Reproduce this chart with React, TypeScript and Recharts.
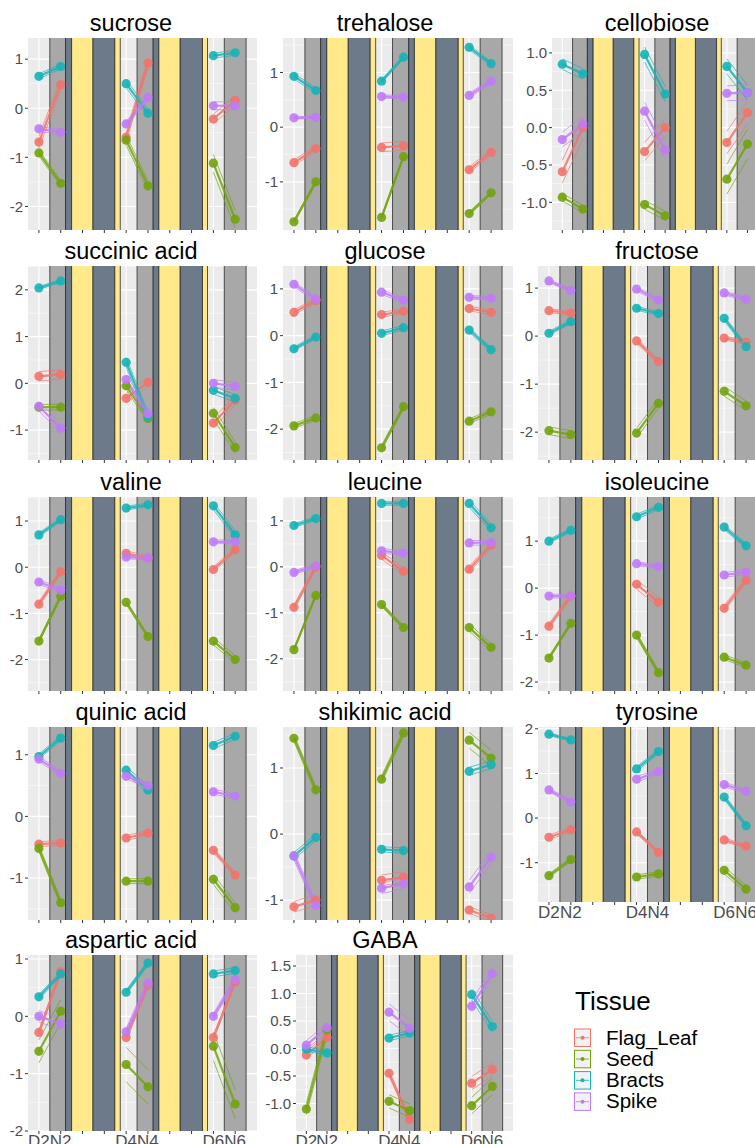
import React from 'react';
import {
  ComposedChart,
  Line,
  XAxis,
  YAxis,
  CartesianGrid,
  ReferenceArea,
} from 'recharts';

const metabolites = [
  'sucrose', 'trehalose', 'cellobiose',
  'succinic acid', 'glucose', 'fructose',
  'valine', 'leucine', 'isoleucine',
  'quinic acid', 'shikimic acid', 'tyrosine',
  'aspartic acid', 'GABA',
];

const tissues = ['Flag_Leaf', 'Seed', 'Bracts', 'Spike'];
const tissueColors = ['#F2736B', '#72A30C', '#16B2B6', '#C07AF8'];

// x slots: D2 N2 (D3 N3) D4 N4 (D5 N5) D6 N6
const timeLabels = ['D2', 'N2', '', '', 'D4', 'N4', '', '', 'D6', 'N6'];
const timeSlots = [1, 2, 5, 6, 9, 10];

// means per metabolite, in order D2 N2 D4 N4 D6 N6
const flagLeaf = [
  [-0.69, 0.48, -0.59, 0.92, -0.22, 0.16],
  [-0.65, -0.39, -0.37, -0.34, -0.78, -0.46],
  [-0.59, 0.0, -0.32, 0.0, -0.2, 0.2],
  [0.15, 0.19, -0.32, 0.02, -0.85, -0.36],
  [0.5, 0.75, 0.45, 0.52, 0.58, 0.5],
  [0.53, 0.48, -0.1, -0.53, -0.04, -0.13],
  [-0.8, -0.1, 0.3, 0.2, -0.05, 0.38],
  [-0.88, 0.0, 0.25, -0.1, -0.05, 0.47],
  [-0.81, -0.17, 0.08, -0.3, -0.43, 0.17],
  [-0.45, -0.43, -0.35, -0.27, -0.55, -0.95],
  [-1.1, -1.0, -0.7, -0.65, -1.15, -1.27],
  [-0.43, -0.26, -0.31, -0.77, -0.49, -0.63],
  [-0.28, 0.78, -0.37, 0.54, -0.37, 0.6],
  [-0.12, 0.2, -0.45, -1.29, -0.63, -0.38],
];
const seed = [
  [-0.91, -1.53, -0.65, -1.58, -1.12, -2.26],
  [-1.73, -1.0, -1.65, -0.54, -1.58, -1.2],
  [-0.93, -1.09, -1.03, -1.18, -0.69, -0.22],
  [-0.51, -0.51, -0.05, -0.75, -0.64, -1.37],
  [-1.93, -1.76, -2.4, -1.52, -1.83, -1.63],
  [-1.97, -2.05, -2.02, -1.4, -1.15, -1.45],
  [-1.6, -0.63, -0.76, -1.5, -1.6, -2.0],
  [-1.8, -0.62, -0.82, -1.32, -1.32, -1.75],
  [-1.49, -0.75, -1.0, -1.8, -1.47, -1.64],
  [-0.52, -1.4, -1.05, -1.05, -1.02, -1.48],
  [1.45, 0.67, 0.83, 1.53, 1.42, 1.15],
  [-1.29, -0.93, -1.32, -1.25, -1.17, -1.59],
  [-0.61, 0.09, -0.84, -1.23, -0.52, -1.53],
  [-1.1, 0.34, -0.96, -1.13, -1.04, -0.69],
];
const bracts = [
  [0.65, 0.85, 0.5, -0.1, 1.07, 1.13],
  [0.93, 0.67, 0.84, 1.28, 1.46, 1.16],
  [0.85, 0.72, 0.98, 0.45, 0.82, 0.47],
  [2.04, 2.19, 0.45, -0.71, -0.15, -0.32],
  [-0.28, -0.03, 0.05, 0.17, 0.12, -0.3],
  [0.06, 0.3, 0.58, 0.47, 0.37, -0.22],
  [0.7, 1.03, 1.28, 1.35, 1.33, 0.7],
  [0.9, 1.05, 1.38, 1.38, 1.38, 0.85],
  [1.0, 1.23, 1.52, 1.72, 1.3, 0.9],
  [0.97, 1.27, 0.75, 0.43, 1.15, 1.3],
  [-0.33, -0.05, -0.23, -0.25, 0.95, 1.05],
  [1.88, 1.75, 1.1, 1.49, 0.47, -0.17],
  [0.34, 0.74, 0.42, 0.93, 0.74, 0.8],
  [-0.01, -0.08, 0.19, 0.28, 0.98, 0.4],
];
const spike = [
  [-0.42, -0.49, -0.32, 0.22, 0.05, 0.05],
  [0.17, 0.18, 0.56, 0.55, 0.58, 0.84],
  [-0.16, 0.05, 0.22, -0.3, 0.46, 0.47],
  [-0.49, -0.96, 0.08, -0.65, 0.0, -0.06],
  [1.1, 0.78, 0.93, 0.76, 0.82, 0.8],
  [1.15, 0.95, 0.98, 0.75, 0.9, 0.77],
  [-0.32, -0.5, 0.22, 0.2, 0.55, 0.55],
  [-0.12, 0.02, 0.35, 0.3, 0.52, 0.53],
  [-0.17, -0.17, 0.52, 0.46, 0.28, 0.34],
  [0.93, 0.7, 0.65, 0.5, 0.4, 0.33],
  [-0.33, -1.08, -0.82, -0.75, -0.8, -0.35],
  [0.63, 0.36, 0.87, 1.04, 0.75, 0.6],
  [0.0, -0.13, -0.27, 0.58, 0.0, 0.64],
  [0.06, 0.38, 0.66, 0.37, 0.77, 1.36],
];

// spread of the thin lines, per day (2, 4, 6)
const flagLeafSE = [
  [0.12, 0.1, 0.1], [0.05, 0.08, 0.05], [0.15, 0.12, 0.15], [0.1, 0.1, 0.1],
  [0.05, 0.05, 0.05], [0.04, 0.05, 0.04], [0.05, 0.05, 0.05], [0.05, 0.08, 0.06],
  [0.05, 0.1, 0.06], [0.04, 0.04, 0.04], [0.08, 0.08, 0.05], [0.05, 0.04, 0.04],
  [0.04, 0.05, 0.04], [0.06, 0.05, 0.12],
];
const seedSE = [
  [0.06, 0.1, 0.18], [0.03, 0.03, 0.03], [0.05, 0.06, 0.2], [0.06, 0.08, 0.12],
  [0.05, 0.05, 0.05], [0.08, 0.1, 0.1], [0.04, 0.04, 0.08], [0.03, 0.04, 0.08],
  [0.03, 0.05, 0.05], [0.05, 0.04, 0.08], [0.05, 0.05, 0.12], [0.04, 0.05, 0.08],
  [0.2, 0.3, 0.25], [0.1, 0.12, 0.15],
];
const bractsSE = [
  [0.05, 0.08, 0.05], [0.05, 0.03, 0.04], [0.07, 0.1, 0.1], [0.03, 0.1, 0.08],
  [0.04, 0.05, 0.05], [0.04, 0.04, 0.05], [0.04, 0.04, 0.08], [0.04, 0.04, 0.08],
  [0.04, 0.05, 0.05], [0.04, 0.06, 0.05], [0.05, 0.04, 0.06], [0.03, 0.05, 0.05],
  [0.04, 0.04, 0.05], [0.04, 0.05, 0.1],
];
const spikeSE = [
  [0.05, 0.05, 0.08], [0.02, 0.03, 0.04], [0.1, 0.12, 0.1], [0.1, 0.1, 0.08],
  [0.05, 0.05, 0.04], [0.03, 0.04, 0.04], [0.05, 0.04, 0.04], [0.04, 0.05, 0.05],
  [0.04, 0.04, 0.05], [0.04, 0.04, 0.04], [0.06, 0.08, 0.1], [0.04, 0.06, 0.05],
  [0.1, 0.06, 0.05], [0.08, 0.15, 0.1],
];

const yDomains = [
  [-2.48, 1.43], [-1.88, 1.63], [-1.37, 1.2],
  [-1.64, 2.51], [-2.66, 1.49], [-2.58, 1.46],
  [-2.68, 1.52], [-2.7, 1.52], [-2.19, 1.94],
  [-1.68, 1.45], [-1.3, 1.62], [-1.88, 2.04],
  [-2.0, 1.07], [-1.5, 1.7],
];
const yTicks = [
  [-2, -1, 0, 1], [-1, 0, 1], [-1, -0.5, 0, 0.5, 1],
  [-1, 0, 1, 2], [-2, -1, 0, 1], [-2, -1, 0, 1],
  [-2, -1, 0, 1], [-2, -1, 0, 1], [-2, -1, 0, 1],
  [-1, 0, 1], [-1, 0, 1], [-1, 0, 1, 2],
  [-2, -1, 0, 1], [-1, -0.5, 0, 0.5, 1, 1.5],
];

// light regime shading, in x slot units
const nightSpans = [[1.5, 2.22], [5.5, 6.24], [9.5, 10.5]];
const darkSpans = [[2.22, 2.5], [3.47, 4.48], [6.24, 6.5], [7.47, 8.5]];
const lightSpans = [[2.5, 3.47], [4.48, 4.73], [6.5, 7.47], [8.5, 8.73]];

const means = [flagLeaf, seed, bracts, spike];
const spreads = [flagLeafSE, seedSE, bractsSE, spikeSE];

// plot boxes: left, top, right, bottom
const boxes = [
  [28, 38, 257, 230], [283, 38, 513, 230], [552, 38, 768, 230],
  [28, 266, 257, 460], [283, 266, 513, 460], [538, 266, 768, 460],
  [28, 497, 257, 691], [283, 497, 513, 691], [538, 497, 768, 691],
  [28, 727, 257, 920], [283, 727, 513, 920], [538, 727, 768, 902],
  [28, 955, 257, 1131], [296, 955, 513, 1131],
];
const titleCenters = [131, 385, 657];
const withXLabels = ['tyrosine', 'aspartic acid', 'GABA'];

const FONT = '"Liberation Sans", Arial, sans-serif';
const AXW = 40;
const MT = 10;
const XH = 26;

const buildRows = (m: number) => {
  const rows: any[] = [];
  timeSlots.forEach((x, k) => {
    if (k === 2 || k === 4) rows.push({ x: (timeSlots[k - 1] + x) / 2 });
    const row: any = { x };
    tissues.forEach((t, ti) => {
      const v = means[ti][m][k];
      const e = spreads[ti][m][Math.floor(k / 2)];
      row[t] = v;
      row[t + '_hi'] = v + e;
      row[t + '_lo'] = v - e;
    });
    rows.push(row);
  });
  return rows;
};

const Panel = ({ m }: { m: number }) => {
  const [left, top, right, bottom] = boxes[m];
  const name = metabolites[m];
  const domain = yDomains[m];
  const ticks = yTicks[m];
  const decimals = ticks.some((t) => !Number.isInteger(t));
  const step = ticks[1] - ticks[0];
  const minor: number[] = [];
  for (let v = ticks[0] - step / 2; v < domain[1]; v += step) {
    if (v > domain[0]) minor.push(v);
  }
  const showX = withXLabels.includes(name);
  const rows = buildRows(m);
  const w = AXW + (right - left);
  const h = MT + (bottom - top) + XH;
  const yLo = domain[0] - 1;
  const yHi = domain[1] + 1;

  const rect = (s: number[], fill: string, key: string) => (
    <ReferenceArea
      key={key}
      x1={s[0]}
      x2={s[1]}
      y1={yLo}
      y2={yHi}
      ifOverflow="hidden"
      fill={fill}
      fillOpacity={1}
      stroke="#2b2b2b"
      strokeWidth={0.8}
    />
  );

  return (
    <>
      <div
        style={{
          position: 'absolute',
          left: titleCenters[m % 3] - 120,
          width: 240,
          top: top - 28,
          textAlign: 'center',
          fontSize: 23.5,
          lineHeight: '27px',
          color: '#000',
        }}
      >
        {name}
      </div>
      <div style={{ position: 'absolute', left: left - AXW, top: top - MT }}>
        <ComposedChart
          width={w}
          height={h}
          data={rows}
          margin={{ top: MT, right: 0, bottom: 0, left: 0 }}
        >
          <CartesianGrid
            fill="#EBEBEB"
            stroke="#FFFFFF"
            strokeWidth={0.5}
            vertical={false}
            horizontalValues={minor}
          />
          <CartesianGrid
            stroke="#FFFFFF"
            strokeWidth={1.1}
            horizontalValues={ticks}
            verticalValues={[1, 2, 3, 4, 5, 6, 7, 8, 9, 10]}
          />
          <XAxis
            type="number"
            dataKey="x"
            domain={[0.5, 11]}
            ticks={[1, 2, 3, 4, 5, 6, 7, 8, 9, 10]}
            interval={0}
            allowDataOverflow
            height={XH}
            axisLine={false}
            tickLine={{ stroke: '#333333' }}
            tickSize={3}
            tickMargin={1}
            tick={{ fill: '#4D4D4D', fontSize: 17, fontFamily: FONT }}
            tickFormatter={(v: number) => (showX ? timeLabels[v - 1] : '')}
          />
          <YAxis
            type="number"
            domain={domain}
            ticks={ticks}
            interval={0}
            allowDataOverflow
            width={AXW}
            axisLine={false}
            tickLine={{ stroke: '#333333' }}
            tickSize={3}
            tickMargin={2}
            tick={{ fill: '#4D4D4D', fontSize: 15, fontFamily: FONT }}
            tickFormatter={(v: number) => (decimals ? v.toFixed(1) : String(v))}
          />
          {nightSpans.map((s, i) => rect(s, '#A8A8A8', 'n' + i))}
          {darkSpans.map((s, i) => rect(s, '#6C7A8A', 'd' + i))}
          {lightSpans.map((s, i) => rect(s, '#FFE98B', 'l' + i))}
          {tissues.map((t, ti) => [
            <Line
              key={t + 'lo'}
              dataKey={t + '_lo'}
              stroke={tissueColors[ti]}
              strokeWidth={0.8}
              strokeOpacity={0.85}
              dot={false}
              activeDot={false}
              connectNulls={false}
              isAnimationActive={false}
            />,
            <Line
              key={t + 'hi'}
              dataKey={t + '_hi'}
              stroke={tissueColors[ti]}
              strokeWidth={0.8}
              strokeOpacity={0.85}
              dot={false}
              activeDot={false}
              connectNulls={false}
              isAnimationActive={false}
            />,
            <Line
              key={t}
              dataKey={t}
              stroke={tissueColors[ti]}
              strokeWidth={2.2}
              strokeOpacity={0.85}
              dot={{ r: 4.6, fill: tissueColors[ti], stroke: 'none', fillOpacity: 0.9 }}
              activeDot={false}
              connectNulls={false}
              isAnimationActive={false}
            />,
          ])}
        </ComposedChart>
      </div>
    </>
  );
};

const Legend = () => (
  <svg
    style={{ position: 'absolute', left: 560, top: 980 }}
    width={195}
    height={150}
  >
    <text x={15} y={30} fontSize={26} fontFamily={FONT} fill="#000">
      Tissue
    </text>
    {tissues.map((t, i) => {
      const y = 49 + i * 21.3;
      return (
        <g key={t}>
          <rect x={14.5} y={y} width={16} height={17.5} fill="#F2F2F2" stroke={tissueColors[i]} strokeWidth={1} />
          <line x1={16} x2={29} y1={y + 8.75} y2={y + 8.75} stroke={tissueColors[i]} strokeWidth={0.8} />
          <circle cx={22.5} cy={y + 8.75} r={2} fill={tissueColors[i]} />
          <text x={46} y={y + 15.5} fontSize={20.5} fontFamily={FONT} fill="#000">
            {t}
          </text>
        </g>
      );
    })}
  </svg>
);

export default function App() {
  return (
    <div
      style={{
        position: 'fixed',
        left: 0,
        top: 0,
        width: 755,
        height: 1144,
        overflow: 'hidden',
        background: '#FFFFFF',
        fontFamily: FONT,
      }}
    >
      {metabolites.map((_, m) => (
        <Panel key={m} m={m} />
      ))}
      <Legend />
    </div>
  );
}
